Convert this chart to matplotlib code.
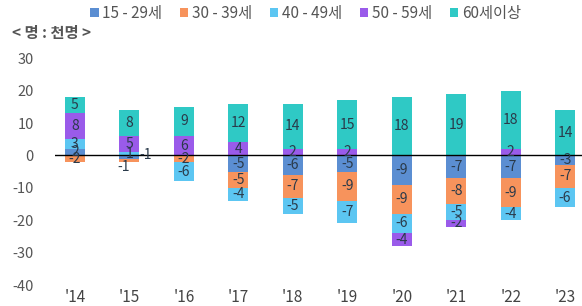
import matplotlib
matplotlib.use("Agg")
import matplotlib.pyplot as plt
import numpy as np

plt.rcParams['font.family'] = ['Noto Sans CJK KR', 'DejaVu Sans']
plt.rcParams['axes.unicode_minus'] = False

years = ["'14", "'15", "'16", "'17", "'18", "'19", "'20", "'21", "'22", "'23"]
series_names = ["15 - 29세", "30 - 39세", "40 - 49세", "50 - 59세", "60세이상"]
age_15_29 = [2, -1, 0, -5, -6, -5, -9, -7, -7, -3]
age_30_39 = [-2, -1, -2, -5, -7, -9, -9, -8, -9, -7]
age_40_49 = [3, 1, -6, -4, -5, -7, -6, -5, -4, -6]
age_50_59 = [8, 5, 6, 4, 2, 2, -4, -2, 2, 0]
age_60p = [5, 8, 9, 12, 14, 15, 18, 19, 18, 14]
colors = ["#5B8ED2", "#F7935C", "#5CC6F2", "#9A5BEA", "#2FC9C5"]

data = [age_15_29, age_30_39, age_40_49, age_50_59, age_60p]

fig = plt.figure(figsize=(5.82, 3.06), dpi=100)
ax = fig.add_axes([0.094, 0.0686, 0.906, 0.741])

x = np.arange(len(years))
pos = np.zeros(len(years))
neg = np.zeros(len(years))
w = 0.37
for k, (name, vals, c) in enumerate(zip(series_names, data, colors)):
    v = np.array(vals, dtype=float)
    bottom = np.where(v >= 0, pos, neg)
    ax.bar(x, v, w, bottom=bottom, color=c, label=name, zorder=2)
    for i, val in enumerate(v):
        if val != 0:
            tx, ty = x[i], bottom[i] + val / 2
            if i == 1 and k == 1:
                tx, ty = x[i] + 0.3, 0.0
            elif i == 1 and k == 0:
                tx, ty = x[i] - 0.1, -3.6
            ax.text(tx, ty, f"{int(val)}", ha='center', va='center',
                    fontsize=10, color='#2a3a4a', zorder=4)
    pos = np.where(v >= 0, pos + v, pos)
    neg = np.where(v < 0, neg + v, neg)

ax.axhline(0, color='black', lw=1.0, zorder=3)
ax.set_ylim(-40, 30)
ax.set_yticks(range(-40, 31, 10))
ax.set_xlim(-0.37, 9.31)
ax.set_xticks(x)
ax.set_xticklabels(years, fontsize=11, color='#444444')
ax.tick_params(axis='y', labelsize=10.5, colors='#555555', length=0, pad=15)
ax.tick_params(axis='x', length=0, pad=3)
for s in ax.spines.values():
    s.set_visible(False)

leg = fig.legend(loc='center left', bbox_to_anchor=(0.155, 0.955), ncol=5, frameon=False,
                 fontsize=11, handlelength=0.55, handleheight=0.55, handletextpad=0.25,
                 columnspacing=1.15, labelcolor='#555555', borderaxespad=0, borderpad=0)
fig.text(0.02, 0.892, "< 명 : 천명 >", fontsize=11, fontweight='bold', color='#555555',
         va='center')

fig.savefig("out.png", dpi=100)
